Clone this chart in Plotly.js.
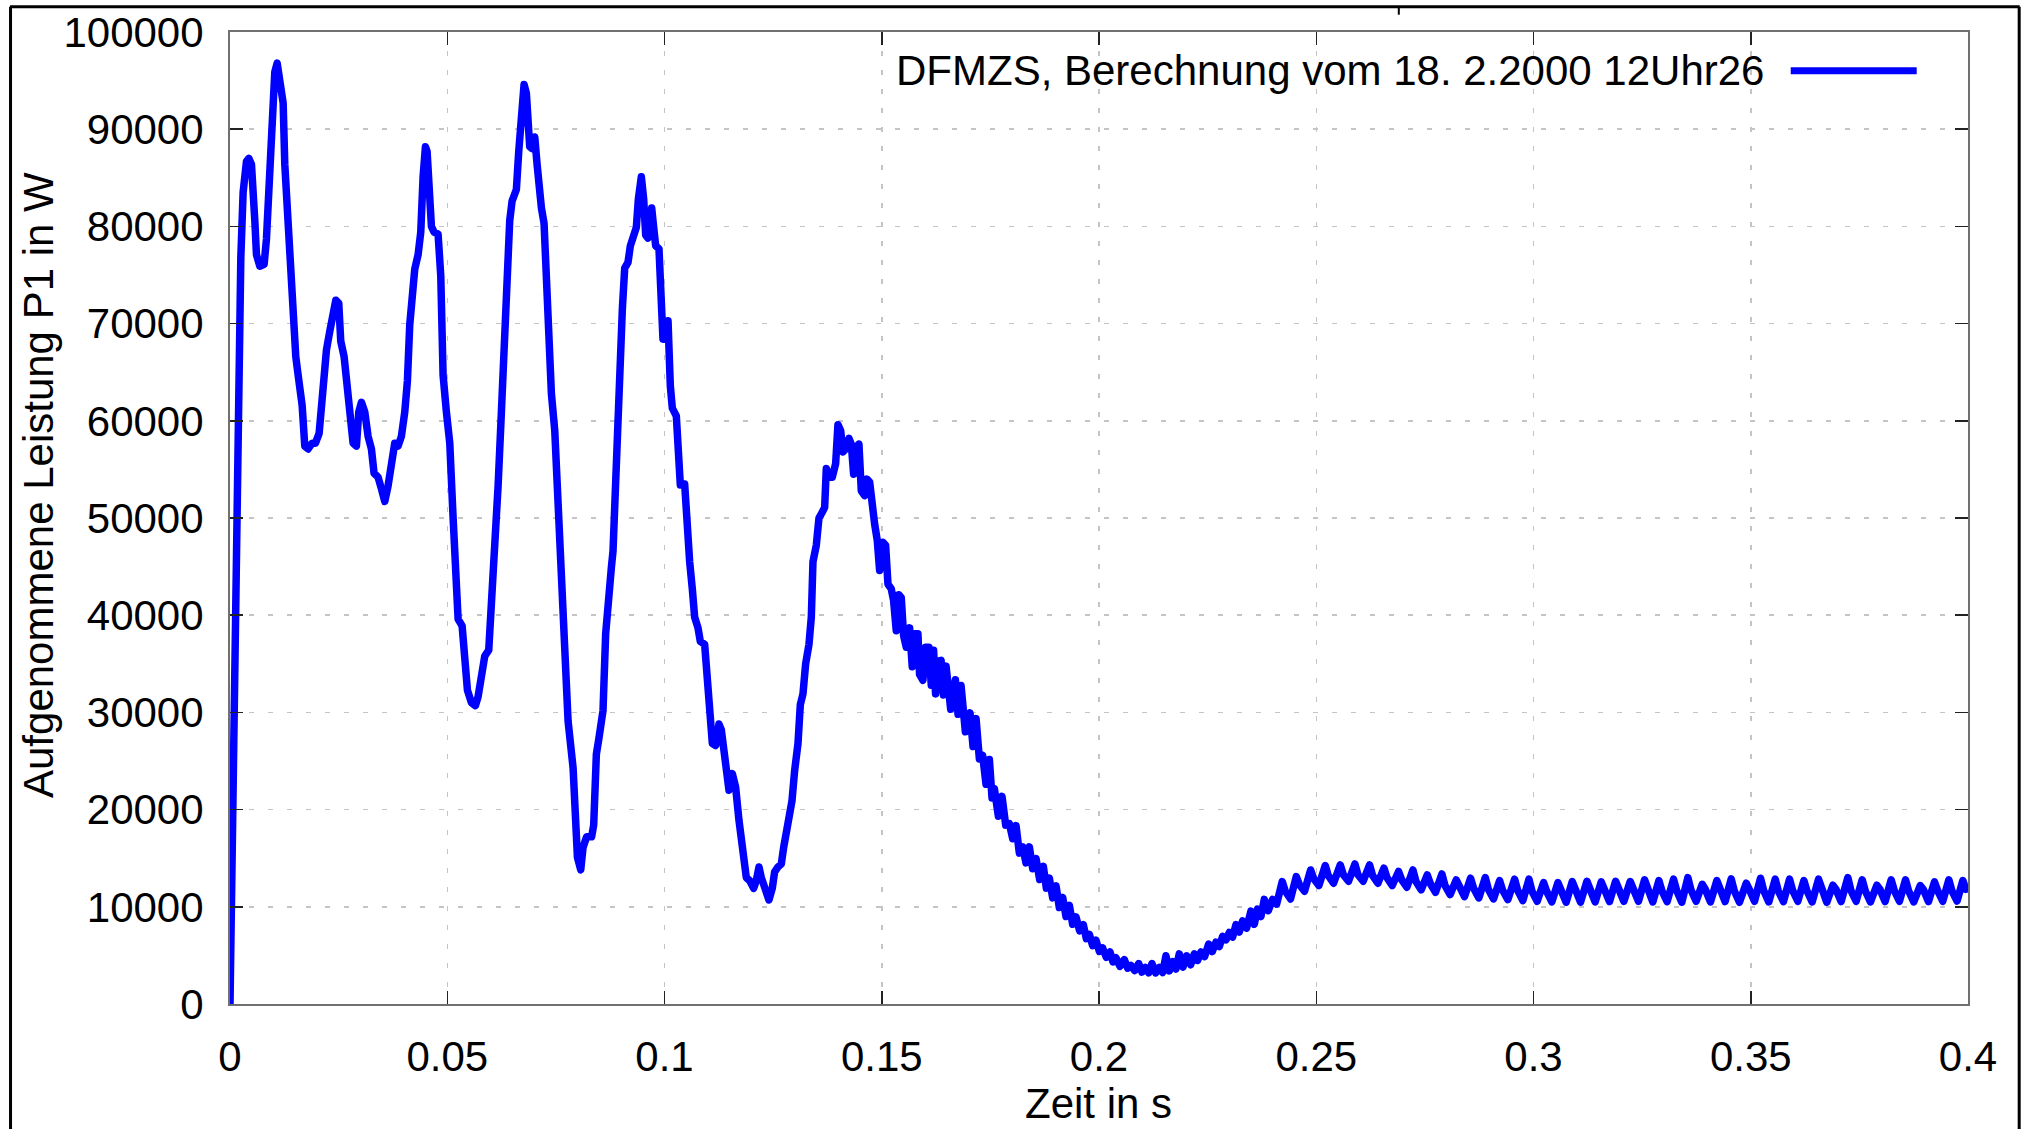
<!DOCTYPE html>
<html>
<head>
<meta charset="utf-8">
<script src="https://cdn.plot.ly/plotly-3.0.1.min.js"></script>
<style>
html,body{margin:0;padding:0;background:#fff;}
#chart{width:2028px;height:1129px;}
#chart path.js-line{stroke-linejoin:round !important;stroke-linecap:round !important;}
</style>
</head>
<body>
<div id="chart"></div>
<script>
// Section A: 0 .. 0.081 s
var tA = [0,0.00072,0.00133,0.00187,0.00249,0.00302,0.00379,0.00433,0.00494,0.00571,0.00609,0.00686,0.00785,0.00839,0.00893,0.00954,0.01031,0.01085,0.01146,0.01223,0.01261,0.01338,0.01391,0.01453,0.01514,0.01568,0.01660,0.01721,0.01798,0.01890,0.01967,0.02051,0.02105,0.02158,0.02220,0.02296,0.02373,0.02435,0.02503,0.02549,0.02626,0.02680,0.02757,0.02833,0.02910,0.02964,0.03025,0.03102,0.03178,0.03255,0.03316,0.03408,0.03485,0.03562,0.03638,0.03715,0.03792,0.03868,0.03945,0.04022,0.04083,0.04137,0.04191,0.04252,0.04329,0.04390,0.04444,0.04498,0.04536,0.04582,0.04636,0.04697,0.04789,0.04851,0.04904,0.04981,0.05058,0.05134,0.05188,0.05250,0.05342,0.05403,0.05464,0.05556,0.05648,0.05709,0.05786,0.05863,0.05955,0.06016,0.06093,0.06170,0.06246,0.06323,0.06384,0.06438,0.06492,0.06591,0.06645,0.06706,0.06768,0.06821,0.06860,0.06898,0.06952,0.07014,0.07067,0.07106,0.07167,0.07228,0.07282,0.07336,0.07397,0.07474,0.07550,0.07612,0.07704,0.07781,0.07896,0.07934,0.07996,0.08072];
var pA = [0,22700,49500,66000,76800,83500,86700,87000,86400,80600,77100,75900,76100,78700,83200,89600,95900,96800,95400,92700,86400,80000,74300,71100,66600,64700,61600,57400,57100,57700,57700,58700,62200,66000,67300,69200,71100,72400,72100,68200,66600,64400,60900,57700,57400,60900,61900,60900,58400,57100,54600,54200,53000,51700,53300,55800,57700,57400,58400,60900,64100,69900,72400,75600,77100,79400,85100,88200,87700,83800,80000,79400,79200,74900,64700,60900,57700,50100,43100,39600,38900,35500,32300,31000,30700,31600,34500,35800,36400,40500,46900,53300,60900,69200,75600,80600,82600,83800,87700,92700,94600,93700,90800,88200,88000,89200,86400,83500,81900,80300,74900,67300,62800,59000,51400,41800,32900,29100,24300,20200,15100,13800];

// Section B: 0.081 .. 0.163 s
var tB = [0.08125,0.08208,0.08323,0.08370,0.08432,0.08493,0.08585,0.08646,0.08700,0.08777,0.08815,0.08876,0.08930,0.08984,0.09030,0.09084,0.09160,0.09214,0.09275,0.09352,0.09398,0.09467,0.09521,0.09567,0.09620,0.09659,0.09705,0.09751,0.09797,0.09873,0.09919,0.09965,0.10027,0.10081,0.10134,0.10180,0.10272,0.10318,0.10364,0.10464,0.10518,0.10579,0.10640,0.10694,0.10771,0.10824,0.10924,0.10978,0.11039,0.11101,0.11177,0.11254,0.11308,0.11361,0.11423,0.11484,0.11561,0.11637,0.11714,0.11791,0.11883,0.11960,0.12052,0.12113,0.12175,0.12228,0.12305,0.12404,0.12481,0.12535,0.12612,0.12688,0.12742,0.12803,0.12865,0.12934,0.12995,0.13072,0.13126,0.13187,0.13248,0.13325,0.13379,0.13417,0.13494,0.13555,0.13632,0.13686,0.13724,0.13785,0.13862,0.13939,0.13992,0.14054,0.14107,0.14169,0.14245,0.14299,0.14353,0.14414,0.14475,0.14529,0.14606,0.14659,0.14721,0.14782,0.14836,0.14897,0.14951,0.15027,0.15089,0.15143,0.15219,0.15273,0.15334,0.15396,0.15449,0.15503,0.15564,0.15641,0.15702,0.15756,0.15833,0.15871,0.15948,0.16009,0.16086,0.16140,0.16193,0.16239,0.16316];
var pB = [16100,17200,17200,18400,25700,27400,30200,38100,42100,44900,46600,55100,59600,65300,71500,75700,76300,78000,79100,79900,82800,85100,82800,79100,78800,81400,81900,79900,78000,77700,72600,68400,68400,70300,63600,61300,60500,56800,53400,53500,48300,45500,42700,39800,38700,37300,37000,33600,29700,26800,26600,28800,28200,26300,24600,22000,23700,22300,18900,15300,13000,12700,11900,12700,14100,13000,12100,10700,11900,13600,14100,14400,16100,17800,19800,20900,24000,26800,30800,31900,35000,37000,39800,45500,47200,50000,50600,51100,55100,54200,54200,55600,59600,59000,56800,57100,58200,57600,54500,57300,57600,52800,52300,54000,53700,50300,49400,47700,44600,47500,47200,43200,42700,41500,38400,42100,41800,37900,36700,38700,34700,38100,38100,33900,33300,36700,36700,32800,36400,31900,35300];

// Section C: 0.163 .. 0.241 s (ripple band going through the minimum)
var tC = [0.16365,0.16419,0.16480,0.16587,0.16695,0.16756,0.16825,0.16925,0.17032,0.17101,0.17170,0.17247,0.17323,0.17400,0.17477,0.17538,0.17592,0.17684,0.17768,0.17853,0.17937,0.18014,0.18090,0.18167,0.18244,0.18320,0.18397,0.18474,0.18551,0.18635,0.18719,0.18788,0.18857,0.18934,0.19011,0.19087,0.19164,0.19241,0.19317,0.19394,0.19471,0.19555,0.19640,0.19709,0.19778,0.19854,0.19931,0.20008,0.20084,0.20169,0.20253,0.20322,0.20391,0.20483,0.20583,0.20660,0.20736,0.20821,0.20913,0.20989,0.21066,0.21143,0.21219,0.21304,0.21388,0.21465,0.21541,0.21618,0.21695,0.21772,0.21848,0.21933,0.22017,0.22109,0.22193,0.22270,0.22347,0.22431,0.22523,0.22607,0.22692,0.22768,0.22845,0.22922,0.22999,0.23075,0.23152,0.23229,0.23305,0.23397,0.23497,0.23574,0.23650,0.23727,0.23804,0.23896,0.23996,0.24088];
var pC = [35360,31800,34760,30320,33360,29800,32760,28000,29960,26480,29360,25200,25560,22600,25160,21200,22160,19320,21360,18400,18560,17000,18360,15520,16160,14520,16160,13920,14960,12800,14160,11920,12960,10920,12160,9920,10960,9000,10160,8200,8960,7520,8160,6720,7160,6000,6560,5400,5760,4800,5360,4320,4760,3880,4560,3680,3960,3440,4160,3280,3760,3200,4160,3200,3760,3240,4960,3400,4360,3600,5160,3800,4960,4040,5160,4480,5360,4880,6160,5400,6360,5920,6960,6600,7360,6880,8160,7400,8560,7800,9560,8200,9760,9000,10760,9600,10760,10280];

// Section D: 0.242 .. 0.4 s (steady 300 Hz ripple: peak, plateau, trough)
var tD = [0.24218,0.24288,0.24408,0.24540,0.24610,0.24730,0.24870,0.24940,0.25060,0.25208,0.25278,0.25398,0.25553,0.25623,0.25743,0.25890,0.25960,0.26080,0.26228,0.26298,0.26418,0.26558,0.26628,0.26748,0.26895,0.26965,0.27085,0.27225,0.27295,0.27415,0.27555,0.27625,0.27745,0.27892,0.27962,0.28082,0.28222,0.28292,0.28412,0.28552,0.28622,0.28742,0.28890,0.28960,0.29080,0.29220,0.29290,0.29410,0.29565,0.29635,0.29755,0.29895,0.29965,0.30085,0.30232,0.30302,0.30422,0.30562,0.30632,0.30752,0.30892,0.30962,0.31082,0.31229,0.31299,0.31419,0.31559,0.31629,0.31749,0.31889,0.31959,0.32079,0.32226,0.32296,0.32416,0.32556,0.32626,0.32746,0.32886,0.32956,0.33076,0.33223,0.33293,0.33413,0.33553,0.33623,0.33743,0.33883,0.33953,0.34073,0.34220,0.34290,0.34410,0.34550,0.34620,0.34740,0.34896,0.34966,0.35086,0.35225,0.35295,0.35415,0.35563,0.35633,0.35753,0.35893,0.35963,0.36083,0.36223,0.36293,0.36413,0.36560,0.36630,0.36750,0.36890,0.36960,0.37080,0.37235,0.37305,0.37425,0.37565,0.37635,0.37755,0.37902,0.37972,0.38092,0.38232,0.38302,0.38422,0.38562,0.38632,0.38752,0.38900,0.38970,0.39090,0.39229,0.39299,0.39419,0.39559,0.39629,0.39749,0.39881,0.39951,0.4];
var pD = [12600,11600,10810,13110,12300,11600,13790,12900,12185,14250,13200,12425,14310,13300,12630,14410,13300,12630,14310,13200,12425,13970,13000,12185,13630,12800,12013,13790,12600,11740,13280,12400,11500,13380,12200,11260,12770,12000,11050,12940,11900,10915,13010,11800,10810,12700,11700,10745,12840,11700,10640,12840,11600,10570,12490,11600,10500,12490,11600,10470,12600,11600,10470,12630,11650,10500,12560,11600,10540,12630,11650,10570,12600,11650,10570,12770,11700,10500,12700,11650,10540,12840,11700,10470,13010,11750,10570,12320,11800,10500,12700,11700,10540,12870,11650,10470,12430,11800,10570,12940,11700,10500,12840,11650,10540,12840,11700,10570,12700,11650,10500,12840,11700,10470,12220,11800,10540,13010,11700,10570,12770,11650,10500,12220,11800,10540,12770,11700,10570,12770,11650,10500,12190,11800,10540,12560,11700,10570,12770,11650,10600,12700,11800,11880];

var xTickVals = [0,0.05,0.1,0.15,0.2,0.25,0.3,0.35,0.4];
var xTickText = ["0","0.05","0.1","0.15","0.2","0.25","0.3","0.35","0.4"];
var yTickVals = [0,10000,20000,30000,40000,50000,60000,70000,80000,90000,100000];
var yTickText = ["0","10000","20000","30000","40000","50000","60000","70000","80000","90000","100000"];

var seriesName = "DFMZS, Berechnung vom 18. 2.2000 12Uhr26";
var xTitle = "Zeit in s";
var yTitle = "Aufgenommene Leistung P1 in W";

var t = tA.concat(tB, tC, tD);
var p = pA.concat(pB, pC, pD);

var FONT = "Liberation Sans, Arial, sans-serif";
var FS = 42;
var BLUE = "#0000ff";

var trace = {
  x: t, y: p, type: "scatter", mode: "lines", name: seriesName,
  line: {color: BLUE, width: 7.5}, showlegend: false
};

// plot area in px: left 230, right 1968, top 32, bottom 1004
var L = 230, R = 1968.3, T = 32.3, B = 1003.7;
function px2x(px){ return (px - L) / (R - L); }
function px2y(py){ return (B - py) / (B - T); }

var axisCommon = {
  showline: true, linecolor: "#707070", linewidth: 2, mirror: "ticks",
  ticks: "inside", ticklen: 13, tickwidth: 1.5, tickcolor: "#222",
  showgrid: true, gridcolor: "#c4c4c4", gridwidth: 1.5, griddash: "5px,14px",
  zeroline: false, tickfont: {family: FONT, size: FS, color: "#000"}
};

var layout = {
  width: 2028, height: 1129,
  margin: {l: L, r: 2028 - R, t: T, b: 1129 - B},
  paper_bgcolor: "#fff", plot_bgcolor: "#fff",
  font: {family: FONT, color: "#000"},
  xaxis: Object.assign({}, axisCommon, {
    range: [0, 0.4], tickmode: "array", tickvals: xTickVals, ticktext: xTickText,
    ticklabelstandoff: 15
  }),
  yaxis: Object.assign({}, axisCommon, {
    range: [0, 100000], tickmode: "array", tickvals: yTickVals, ticktext: yTickText,
    ticklabelstandoff: 16
  }),
  showlegend: false,
  annotations: [
    {xref: "paper", yref: "paper", x: px2x(39), y: px2y(485), text: yTitle, textangle: -90,
     showarrow: false, xanchor: "center", yanchor: "middle",
     font: {family: FONT, size: FS, color: "#000"}},
    {xref: "paper", yref: "paper", x: px2x(1099), y: px2y(1103), text: xTitle,
     showarrow: false, xanchor: "center", yanchor: "middle",
     font: {family: FONT, size: FS, color: "#000"}},
    {xref: "paper", yref: "paper", x: px2x(1766), y: px2y(71), text: seriesName,
     showarrow: false, xanchor: "right", yanchor: "middle",
     font: {family: FONT, size: FS, color: "#000"}}
  ],
  shapes: [
    {type: "line", xref: "paper", yref: "paper", x0: px2x(1791), x1: px2x(1917), y0: px2y(71), y1: px2y(71),
     line: {color: BLUE, width: 7}},
    {type: "line", xref: "paper", yref: "paper", x0: px2x(10), x1: px2x(2020), y0: px2y(7), y1: px2y(7),
     line: {color: "#000", width: 3}},
    {type: "line", xref: "paper", yref: "paper", x0: px2x(10.5), x1: px2x(10.5), y0: px2y(7), y1: px2y(1140),
     line: {color: "#000", width: 3}},
    {type: "line", xref: "paper", yref: "paper", x0: px2x(2019.5), x1: px2x(2019.5), y0: px2y(7), y1: px2y(1140),
     line: {color: "#000", width: 3}},
    {type: "line", xref: "paper", yref: "paper", x0: px2x(1399), x1: px2x(1399), y0: px2y(8), y1: px2y(15),
     line: {color: "#000", width: 2}}
  ]
};

Plotly.newPlot("chart", [trace], layout, {staticPlot: true, displayModeBar: false});
</script>
</body>
</html>
